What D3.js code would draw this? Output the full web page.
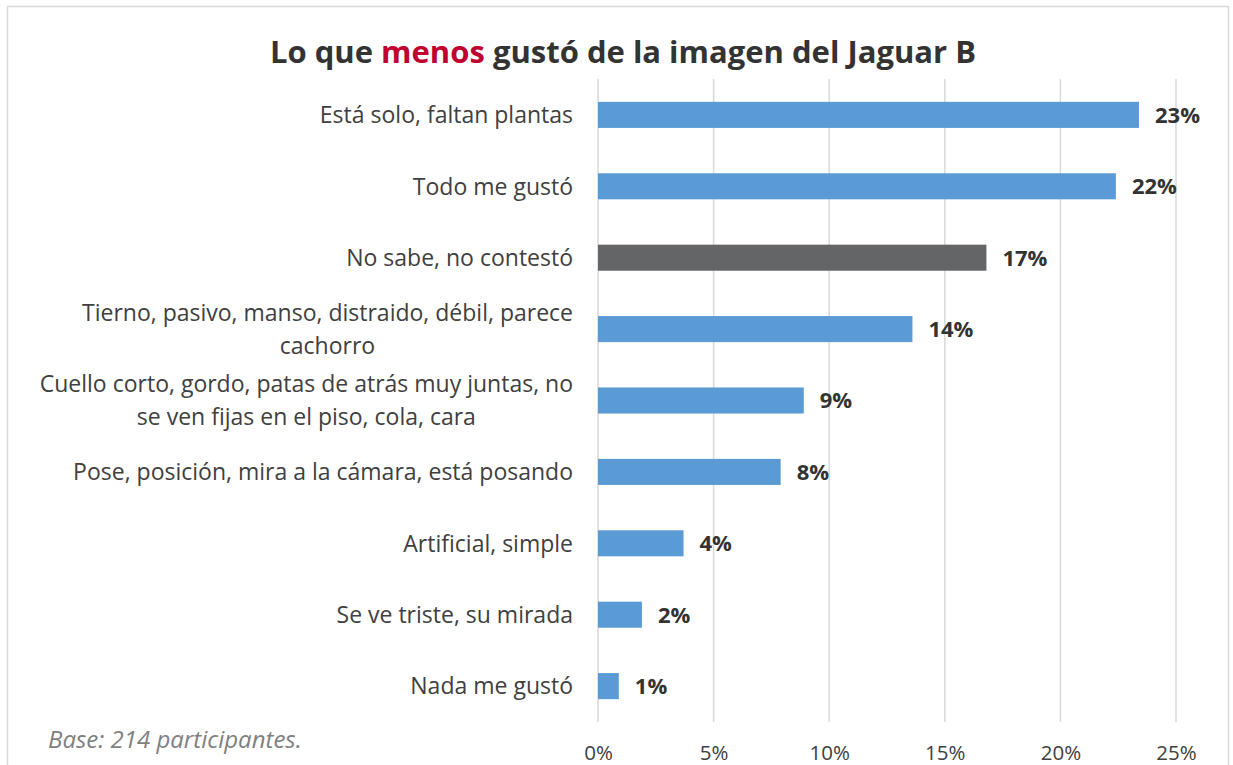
<!DOCTYPE html>
<html>
<head>
<meta charset="utf-8">
<script src="https://cdn.jsdelivr.net/npm/d3@7"></script>
<style>
  html, body { margin: 0; padding: 0; background: #fff; }
  svg { display: block; font-family: "Open Sans", "Liberation Sans", sans-serif; }
</style>
</head>
<body>
<svg id="chart" width="1233" height="765"></svg>
<script>
// Respuestas: lo que menos gustó de la imagen del Jaguar B (porcentaje de participantes)
const categories = [
  "Está solo, faltan plantas",
  "Todo me gustó",
  "No sabe, no contestó",
  "Tierno, pasivo, manso, distraido, débil, parece cachorro",
  "Cuello corto, gordo, patas de atrás muy juntas, no se ven fijas en el piso, cola, cara",
  "Pose, posición, mira a la cámara, está posando",
  "Artificial, simple",
  "Se ve triste, su mirada",
  "Nada me gustó"
];
const labelLines = [
  ["Está solo, faltan plantas"],
  ["Todo me gustó"],
  ["No sabe, no contestó"],
  ["Tierno, pasivo, manso, distraido, débil, parece", "cachorro"],
  ["Cuello corto, gordo, patas de atrás muy juntas, no", "se ven fijas en el piso, cola, cara"],
  ["Pose, posición, mira a la cámara, está posando"],
  ["Artificial, simple"],
  ["Se ve triste, su mirada"],
  ["Nada me gustó"]
];
const values = [23.4, 22.4, 16.8, 13.6, 8.9, 7.9, 3.7, 1.9, 0.9];
const highlight = ["No sabe, no contestó"];
const xTicks = [0, 5, 10, 15, 20, 25];
const baseNote = "Base: 214 participantes.";

const svg = d3.select("#chart");

// Marco del gráfico
svg.append("rect")
  .attr("x", 7.5).attr("y", 6.5)
  .attr("width", 1221).attr("height", 770)
  .attr("fill", "#fff").attr("stroke", "#d9d9d9").attr("stroke-width", 1.5);

// Título con la palabra resaltada
const title = svg.append("text")
  .attr("x", 623).attr("y", 63)
  .attr("text-anchor", "middle")
  .attr("font-size", 31).attr("font-weight", 700)
  .attr("fill", "#333333");
title.append("tspan").text("Lo que ");
title.append("tspan").attr("fill", "#c0002f").text("menos");
title.append("tspan").text(" gustó de la imagen del Jaguar B");

const plot = { left: 598, right: 1176, top: 79, bottom: 722 };

const x = d3.scaleLinear().domain([0, 25]).range([plot.left, plot.right]);
const y = d3.scaleBand().domain(categories).range([plot.top, plot.bottom]).paddingInner(0.635).paddingOuter(0.32);

// Líneas de cuadrícula verticales
svg.append("g")
  .selectAll("line")
  .data(xTicks)
  .join("line")
  .attr("x1", d => x(d)).attr("x2", d => x(d))
  .attr("y1", plot.top).attr("y2", plot.bottom)
  .attr("stroke", "#d9d9d9").attr("stroke-width", 1.5);

// Eje X (solo etiquetas)
const xAxis = d3.axisBottom(x)
  .tickValues(xTicks)
  .tickFormat(d => d + "%")
  .tickSize(0)
  .tickPadding(0);
const gx = svg.append("g")
  .attr("transform", `translate(0,${plot.bottom})`)
  .call(xAxis);
gx.select(".domain").remove();
gx.selectAll("text")
  .attr("y", 38)
  .attr("dy", 0)
  .attr("font-size", 20.5)
  .attr("font-family", "'Open Sans', sans-serif")
  .attr("fill", "#404040");

// Barras
svg.append("g")
  .selectAll("rect")
  .data(categories)
  .join("rect")
  .attr("x", x(0))
  .attr("y", d => y(d))
  .attr("width", (d, i) => x(values[i]) - x(0))
  .attr("height", y.bandwidth())
  .attr("fill", d => highlight.includes(d) ? "#646567" : "#5b9bd5");

// Etiquetas de valor
svg.append("g")
  .selectAll("text")
  .data(categories)
  .join("text")
  .attr("x", (d, i) => x(values[i]) + 16)
  .attr("y", d => y(d) + y.bandwidth() / 2)
  .attr("dy", "0.36em")
  .attr("font-size", 22).attr("font-weight", 700)
  .attr("fill", "#333333")
  .text((d, i) => d3.format(".0f")(values[i]) + "%");

// Etiquetas de categoría (líneas centradas entre sí, bloque alineado a la derecha)
const labelRight = 573;
const lineH = 33;
const catG = svg.append("g");
categories.forEach((c, i) => {
  const lines = labelLines[i];
  const cy = y(c) + y.bandwidth() / 2;
  const t = catG.append("text")
    .attr("font-size", 23)
    .attr("fill", "#404040");
  lines.forEach((ln, j) => {
    t.append("tspan")
      .attr("y", cy + (j - (lines.length - 1) / 2) * lineH)
      .attr("dy", "0.36em")
      .text(ln);
  });
  const tspans = t.selectAll("tspan").nodes();
  const maxW = d3.max(tspans, n => n.getComputedTextLength());
  const center = labelRight - maxW / 2;
  tspans.forEach(n => {
    d3.select(n).attr("x", center).attr("text-anchor", "middle");
  });
});

// Nota de base
svg.append("text")
  .attr("x", 48).attr("y", 748)
  .attr("font-size", 24).attr("font-style", "italic")
  .attr("fill", "#7f7f7f")
  .text(baseNote);
</script>
</body>
</html>
